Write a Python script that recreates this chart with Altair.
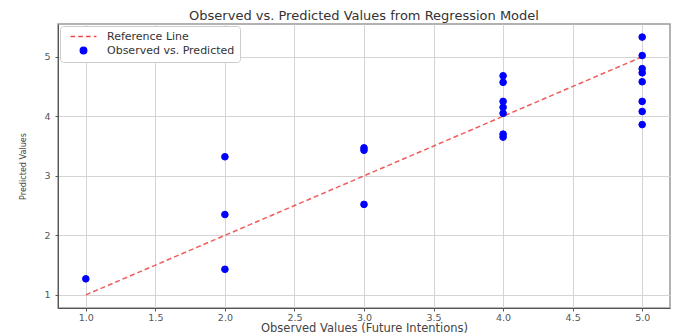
import altair as alt
import pandas as pd

obs_x = [1, 2, 2, 2, 3, 3, 3,
         4, 4, 4, 4, 4, 4, 4,
         5, 5, 5, 5, 5, 5, 5, 5]
pred_y = [1.27, 3.32, 2.35, 1.43, 3.47, 3.43, 2.52,
          4.68, 4.57, 4.25, 4.15, 4.05, 3.70, 3.65,
          5.33, 5.02, 4.80, 4.73, 4.58, 4.25, 4.08, 3.86]

ref_x = [1.0, 5.0]
ref_y = [1.0, 5.0]

x_ticks = [1.0, 1.5, 2.0, 2.5, 3.0, 3.5, 4.0, 4.5, 5.0]
y_ticks = [1, 2, 3, 4, 5]

series_names = ["Reference Line", "Observed vs. Predicted"]

pts = pd.DataFrame({"obs": obs_x, "pred": pred_y, "series": "Observed vs. Predicted"})
ref = pd.DataFrame({"obs": ref_x, "pred": ref_y})

FONT = "DejaVu Sans"

xscale = alt.Scale(domain=[0.8, 5.2], nice=False, zero=False)
yscale = alt.Scale(domain=[0.78, 5.55], nice=False, zero=False)

xaxis = alt.Axis(values=x_ticks, format=".1f", title="Observed Values (Future Intentions)",
                 grid=True, labelFontSize=9.5, titleFontSize=11.5, titleFontWeight="normal",
                 labelColor="#555", titleColor="#444", labelFont=FONT, titleFont=FONT,
                 tickSize=3, tickColor="#555", domainColor="#555", gridColor="#d4d4d4",
                 labelPadding=1, titlePadding=1)
yaxis = alt.Axis(values=y_ticks, format="d", title="Predicted Values",
                 grid=True, labelFontSize=9.5, titleFontSize=9, titleFontWeight="normal",
                 labelColor="#555", titleColor="#444", labelFont=FONT,
                 titleFont="DejaVu Sans Condensed",
                 tickSize=3, tickColor="#555", domainColor="#555", gridColor="#d4d4d4",
                 labelPadding=5, titlePadding=16)

dash_path = "M-4,0H-2.6M-1.6,0H-0.2M0.8,0H2.2M3.2,0H4"
color_scale = alt.Scale(domain=series_names, range=["#ee4444", "#0000ff"])
shape_scale = alt.Scale(domain=series_names, range=[dash_path, "circle"])
leg = alt.Legend(title=None, orient="top-left", offset=2, labelFontSize=11, labelFont=FONT,
                 labelColor="#333", symbolSize=42, symbolStrokeWidth=1.4,
                 symbolOffset=13, labelOffset=18, rowPadding=2,
                 padding=5, strokeColor="#cccccc", fillColor="white", cornerRadius=3)

line = alt.Chart(ref).mark_line(color="#ee3333", strokeDash=[5, 3], strokeWidth=1.5, opacity=0.8).encode(
    x=alt.X("obs:Q", scale=xscale, axis=xaxis),
    y=alt.Y("pred:Q", scale=yscale, axis=yaxis),
)

points = alt.Chart(pts).mark_point(filled=True, size=44, opacity=1, strokeWidth=1).encode(
    x=alt.X("obs:Q", scale=xscale, axis=xaxis),
    y=alt.Y("pred:Q", scale=yscale, axis=yaxis),
    fill=alt.Fill("series:N", scale=color_scale, legend=leg),
    stroke=alt.Stroke("series:N", scale=color_scale, legend=leg),
    shape=alt.Shape("series:N", scale=shape_scale, legend=leg),
)

chart = alt.layer(line, points).properties(
    width=612, height=284,
    title=alt.TitleParams("Observed vs. Predicted Values from Regression Model",
                          fontSize=13, font=FONT, fontWeight="normal", color="#333",
                          anchor="middle", offset=1),
    autosize="none",
    padding={"left": 50, "top": 16, "right": 2, "bottom": 28},
).configure_view(stroke="#999999", strokeWidth=1.5)

chart.save("out.html", embed_options={"renderer": "svg", "actions": False})
